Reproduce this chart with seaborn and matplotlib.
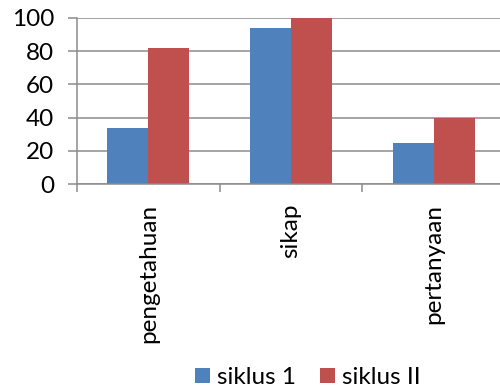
import matplotlib
matplotlib.use("Agg")
import matplotlib.pyplot as plt
import seaborn as sns
import pandas as pd
from matplotlib.patches import Patch

categories = ["pengetahuan", "sikap", "pertanyaan"]
series_names = ["siklus 1", "siklus II"]
siklus_1 = [34, 94, 25]
siklus_2 = [82, 100, 40]
y_ticks = [0, 20, 40, 60, 80, 100]
colors = ["#4F81BD", "#C0504D"]

df = pd.DataFrame({
    "kategori": categories * 2,
    "siklus": [series_names[0]] * 3 + [series_names[1]] * 3,
    "nilai": siklus_1 + siklus_2,
})

sns.set_style("white")
plt.rcParams["font.family"] = ["Lato", "DejaVu Sans"]

fig = plt.figure(figsize=(5.0, 3.9), dpi=100)
ax = fig.add_axes([0.154, 0.528, 0.856, 0.426])

sns.barplot(data=df, x="kategori", y="nilai", hue="siklus", order=categories,
            hue_order=series_names, palette=colors, width=0.575,
            saturation=1, ax=ax, legend=False, linewidth=0)

grid_c = "#8C8C8C"
ax.set_ylim(0, 100)
ax.set_xlim(-0.5, 2.5)
ax.set_yticks(y_ticks)
ax.yaxis.grid(True, color=grid_c, linewidth=1.1)
ax.set_axisbelow(True)
ax.set_xlabel("")
ax.set_ylabel("")

for s in ["top", "right"]:
    ax.spines[s].set_visible(False)
for s in ["left", "bottom"]:
    ax.spines[s].set_color(grid_c)
    ax.spines[s].set_linewidth(1.1)

ax.tick_params(axis="y", which="major", length=6.5, width=1.1, color=grid_c,
               labelsize=17.5, pad=10, left=True, labelcolor="black")
ax.set_xticks(range(len(categories)))
ax.set_xticklabels(categories, rotation=90, fontsize=17.5)
ax.tick_params(axis="x", which="major", length=0, pad=14, bottom=True,
               labelcolor="black")
ax.set_xticks([-0.5, 0.5, 1.5, 2.5], minor=True)
ax.tick_params(axis="x", which="minor", length=6, width=1.1, color=grid_c,
               bottom=True)

handles = [Patch(facecolor=c, edgecolor="none", label=n)
           for c, n in zip(colors, series_names)]
fig.legend(handles=handles, loc="center", bbox_to_anchor=(0.616, 0.032),
           ncol=2, frameon=False, fontsize=17.5, handlelength=0.6,
           handleheight=0.6, handletextpad=0.3, columnspacing=1.0,
           borderpad=0, labelcolor="black")

fig.savefig("out.png", dpi=100)
